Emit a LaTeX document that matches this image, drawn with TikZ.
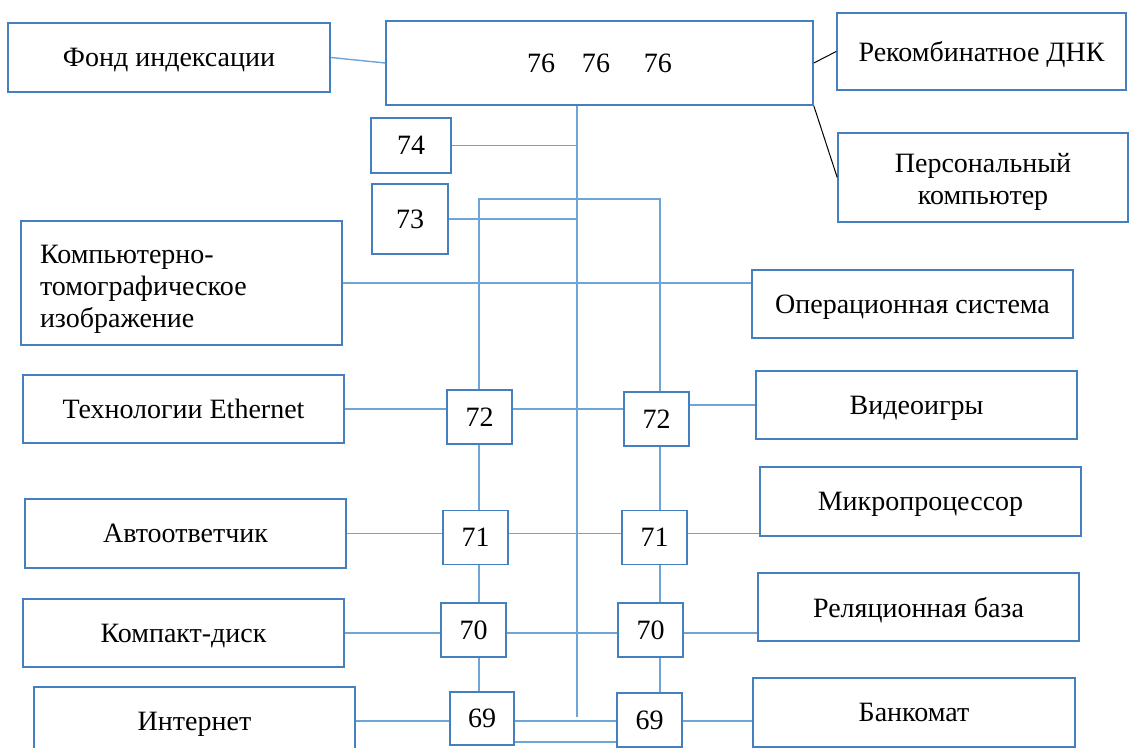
\documentclass[tikz,border=0pt]{standalone}
\usepackage{fontspec}
\setmainfont{Liberation Serif}
\usepackage{tikz}
\usetikzlibrary{positioning}
\definecolor{boxblue}{RGB}{68,128,192}
\definecolor{linkblue}{RGB}{110,165,215}

\begin{document}
\begin{tikzpicture}[x=0.5pt, y=-0.5pt,
  every node/.style={font=\fontsize{14}{16}\selectfont},
  term/.style={draw=boxblue, line width=0.8pt, inner sep=0pt, text depth=0pt, minimum width=160.5pt, minimum height=34pt},
  multi/.style={term, text depth=},
  num/.style={draw=boxblue, line width=0.8pt, inner sep=0pt, minimum width=32.5pt, minimum height=27pt},
  link/.style={draw=linkblue, line width=0.7pt},
  dark/.style={draw=black, line width=0.5pt}]
\useasboundingbox (0,0) rectangle (1129,748);
% top row
\node[term, minimum width=161pt, minimum height=34.5pt] (fond) at (169,57.5) {Фонд индексации};
\node[term, minimum width=213.5pt, minimum height=42pt] (top) at (599.5,63) {76\hspace{13.5pt}76\hspace{17pt}76};
\node[term, minimum width=144.5pt, minimum height=38.5pt] (rek) at (981.5,51.5) {Рекомбинатное ДНК};
\node[multi, minimum width=145pt, minimum height=44.5pt, align=center] (pers) at (983,177.5) {\rule{0pt}{13.5pt}Персональный\\компьютер};
\node[num, minimum width=40pt, minimum height=27.5pt] (n74) at (411,145.5) {74};
\node[num, minimum width=38pt, minimum height=35pt] (n73) at (410,219) {73};
\node[multi, minimum height=62pt, text width=141.5pt, inner xsep=9.5pt, align=left] (komt) at (181.5,283) {\rule{0pt}{15pt}Компьютерно-\\томографическое\\изображение};
\node[term] (ops) at (912.5,304) {Операционная система};
% left column
\node[term] (eth) at (183.5,409) {Технологии Ethernet};
\node[term, minimum height=34.5pt] (avt) at (185.5,533.5) {Автоответчик};
\node[term] (kom) at (183.5,633) {Компакт-диск};
\node[term] (inet) at (194.5,721) {Интернет};
% right column
\node[term] (vid) at (916.5,405) {Видеоигры};
\node[term, minimum height=34.5pt] (mik) at (920.5,501.5) {Микропроцессор};
\node[term] (rel) at (918.5,607) {Реляционная база};
\node[term, minimum width=161pt, minimum height=34.5pt] (bank) at (914,712.5) {Банкомат};
% number boxes
\node[num] (l72) at (479.5,417) {72};
\node[num] (r72) at (656.5,419) {72};
\node[num] (l71) at (475.5,537.5) {71};
\node[num] (r71) at (654.5,537.5) {71};
\node[num] (l70) at (473.5,630) {70};
\node[num] (r70) at (650.5,630) {70};
\node[num, minimum width=32pt, minimum height=26.5pt] (l69) at (482,718.5) {69};
\node[num] (r69) at (649.5,720) {69};

\coordinate (cl) at (479,199);
\coordinate (cr) at (660,199);
\coordinate (trunk) at (577,717);
\coordinate (low) at (0,742);

% links to the top box
\draw[link] (fond.east) -- (top.west);
\draw[dark] (top.east) -- (rek.west);
\draw[dark] (top.south east) -- (pers.west);
\draw[link] (trunk |- top.south) -- (trunk);
\draw[link] (n74.east) -- (n74.east -| trunk);
\draw[link] (n73.east) -- (n73.east -| trunk);
\draw[link] (komt.east) -- (komt.east -| ops.west);
% ladder
\draw[link] (cl |- l72.north) -- (cl) -- (cr) -- (cr |- r72.north);
\draw[link] (l72.south -| cl) -- (l71.north -| cl);
\draw[link] (l71.south -| cl) -- (l70.north -| cl);
\draw[link] (l70.south -| cl) -- (l69.north -| cl);
\draw[link] (r72.south -| cr) -- (r71.north -| cr);
\draw[link] (r71.south -| cr) -- (r70.north -| cr);
\draw[link] (r70.south -| cr) -- (r69.north -| cr);
% rungs
\draw[link] (eth.east) -- (eth.east -| l72.west);
\draw[link] (eth.east -| l72.east) -- (eth.east -| r72.west);
\draw[link] (vid.west -| r72.east) -- (vid.west);
\draw[link] (avt.east) -- (avt.east -| l71.west);
\draw[link] (avt.east -| l71.east) -- (avt.east -| r71.west);
\draw[link] (avt.east -| r71.east) -- (avt.east -| mik.west);
\draw[link] (kom.east) -- (kom.east -| l70.west);
\draw[link] (kom.east -| l70.east) -- (kom.east -| r70.west);
\draw[link] (kom.east -| r70.east) -- (kom.east -| rel.west);
\draw[link] (inet.east) -- (inet.east -| l69.west);
\draw[link] (inet.east -| l69.east) -- (inet.east -| r69.west);
\draw[link] (inet.east -| r69.east) -- (inet.east -| bank.west);
\draw[link] (low -| l69.east) -- (low -| r69.west);
\end{tikzpicture}
\end{document}
